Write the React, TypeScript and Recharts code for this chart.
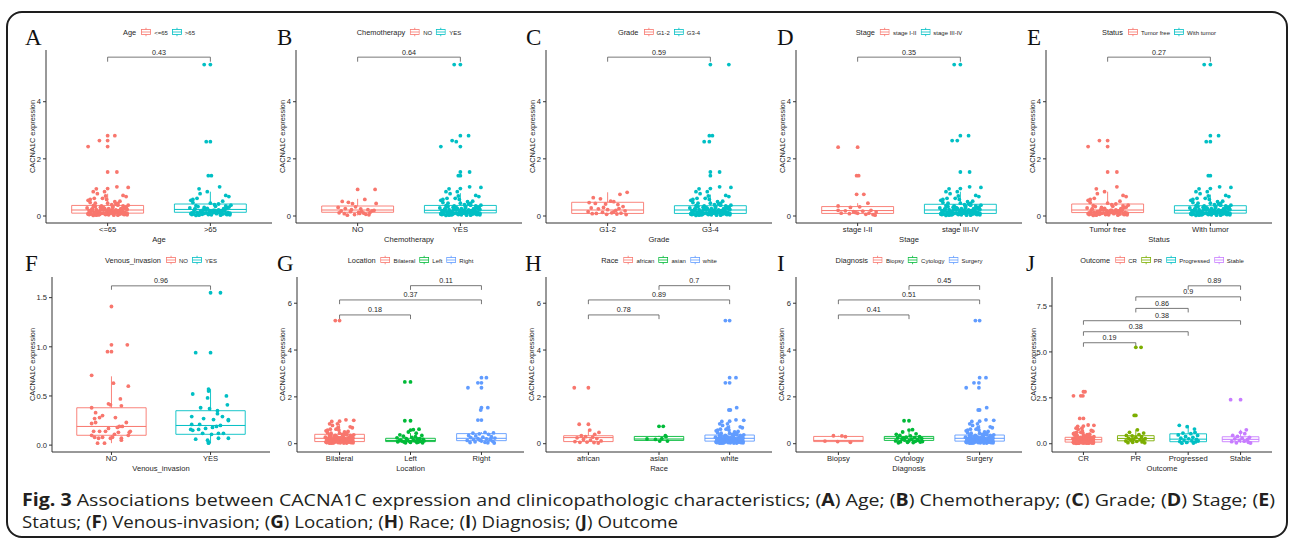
import React from 'react';
import { ComposedChart, Scatter, XAxis, YAxis, ReferenceArea, ReferenceLine } from 'recharts';

// ggplot default hues
const HUE2 = ['#F8766D', '#00BFC4'];
const HUE3 = ['#F8766D', '#00BA38', '#619CFF'];
const HUE4 = ['#F8766D', '#7CAE00', '#00BFC4', '#C77CFF'];

// horizontal jitter offsets (category units)
const jitter = [
  -0.18, 0.05, -0.07, 0.15, -0.12, 0.02, 0.19, -0.03, 0.1, -0.16,
  0.08, -0.01, 0.13, -0.09, 0.17, -0.14, 0.04, -0.06, 0.11, -0.19,
  0.07, -0.11, 0.16, 0.0, -0.04, 0.12, -0.17, 0.09, -0.08, 0.18,
  -0.02, 0.14, -0.13, 0.03, -0.15, 0.06, 0.2, -0.1, 0.01, -0.05,
  0.15, -0.18, 0.1, -0.12, 0.05, 0.17, -0.07, -0.2, 0.12, 0.02,
  -0.14, 0.08, -0.03, 0.19, -0.09, 0.04, -0.16, 0.13, -0.01, 0.07,
  -0.11, 0.16, -0.06, 0.11, -0.19, 0.0, 0.14, -0.13, 0.09, -0.04,
  0.18, -0.08, 0.03, -0.17, 0.06, -0.02, 0.15, -0.1, 0.1, -0.15,
];

// the low-expression band shared by the big groups
const denseLow = [
  0.05, 0.12, 0.21, 0.08, 0.33, 0.15, 0.04, 0.27, 0.1, 0.18,
  0.42, 0.07, 0.24, 0.13, 0.06, 0.36, 0.2, 0.09, 0.16, 0.55,
  0.11, 0.03, 0.29, 0.14, 0.22, 0.07, 0.47, 0.17, 0.1, 0.31,
  0.05, 0.19, 0.62, 0.12, 0.25, 0.08, 0.38, 0.15, 0.04, 0.23,
  0.72, 0.11, 0.18, 0.06, 0.34, 0.13, 0.09, 0.28, 0.52, 0.16,
  0.02, 0.21, 0.85, 0.1, 0.14, 0.4, 0.07, 0.26, 0.19, 0.12,
  0.95, 0.05, 0.3, 0.17, 0.08, 0.45, 0.22, 0.13, 1.02, 0.11,
  0.68, 0.06, 0.2, 0.58, 0.15, 0.09, 0.35, 0.78, 0.03, 0.24,
];
const sparseLow = [
  0.06, 0.18, 0.31, 0.1, 0.45, 0.14, 0.23, 0.08, 0.38, 0.2,
  0.12, 0.58, 0.16, 0.04, 0.27, 0.85, 0.11, 0.35, 0.19, 0.07,
  0.5, 0.22, 0.13, 0.96, 0.29, 0.09, 0.17, 0.41, 0.05, 0.25,
  0.7, 0.15, 0.33, 0.1, 0.21, 0.03, 1.0, 0.14, 0.26, 0.62,
  0.08, 0.19, 0.44, 0.12, 0.3,
];

// A: Age
const ageLevels = ['<=65', '>65'];
const ageYoungExtra = [[-0.19, 2.43], [-0.08, 2.64], [0, 2.81], [0, 2.64], [0, 2.43], [0.07, 2.81], [0, 1.54], [0.09, 1.54]];
const ageOldExtra = [[-0.06, 5.3], [0, 5.3], [-0.04, 2.6], [0, 2.6], [-0.02, 1.41], [0.01, 1.41]];
const ageBoxes = [[0.02, 0.1, 0.21, 0.37, 0.78], [0.02, 0.13, 0.23, 0.42, 0.85]];
const ageBrackets = [[1, 2, 5.56, '0.43']];

// B: Chemotherapy
const chemoLevels = ['NO', 'YES'];
const chemoNoPts = [[0, 0.93], [0.17, 0.93], [0.07, 0.58], [-0.15, 0.51], [-0.09, 0.48], [-0.05, 0.43], [0.18, 0.44], [-0.19, 0.3], [-0.12, 0.26], [-0.02, 0.32], [0.03, 0.25], [0.1, 0.22], [0.14, 0.18], [-0.16, 0.18], [-0.07, 0.15], [0.01, 0.13], [0.06, 0.1], [0.12, 0.12], [-0.13, 0.08], [-0.03, 0.05], [0.08, 0.06], [0.16, 0.2], [-0.18, 0.11], [0.04, 0.16], [-0.1, 0.03], [0.11, 0.04], [0.02, 0.09], [-0.06, 0.22]];
const chemoYesExtra = [[-0.06, 5.3], [0, 5.3], [0, 2.81], [0.08, 2.81], [-0.08, 2.64], [-0.04, 2.6], [-0.19, 2.43], [0, 2.43], [0, 1.54], [0.09, 1.54], [-0.02, 1.41], [0, 1.41]];
const chemoBoxes = [[0.02, 0.13, 0.21, 0.35, 0.6], [0.02, 0.11, 0.2, 0.37, 0.8]];
const chemoBrackets = [[1, 2, 5.56, '0.64']];

// C: Grade
const gradeLevels = ['G1-2', 'G3-4'];
const gradeLowPts = [[0.19, 0.83], [0.12, 0.76], [-0.14, 0.64], [-0.07, 0.6], [0.03, 0.52], [0.06, 0.5], [-0.18, 0.47], [-0.12, 0.44], [-0.02, 0.42], [0.1, 0.4], [0.15, 0.33], [-0.16, 0.28], [-0.09, 0.25], [0, 0.22], [0.08, 0.2], [0.17, 0.18], [-0.19, 0.15], [-0.05, 0.13], [0.04, 0.11], [0.13, 0.1], [-0.11, 0.09], [0.09, 0.07], [-0.01, 0.06], [0.18, 0.05], [-0.15, 0.08], [0.06, 0.14], [-0.04, 0.3], [0.11, 0.26]];
const gradeHighExtra = [[0, 5.3], [0.18, 5.3], [-0.01, 2.81], [0.02, 2.81], [-0.06, 2.6], [-0.01, 2.6], [0, 1.54], [0.09, 1.54], [0, 1.41]];
const gradeBoxes = [[0.04, 0.09, 0.21, 0.48, 0.83], [0.02, 0.09, 0.21, 0.36, 0.75]];
const gradeBrackets = [[1, 2, 5.56, '0.59']];

// D: Stage
const stageLevels = ['stage I-II', 'stage III-IV'];
const stageEarlyPts = [[-0.19, 2.41], [0, 2.41], [-0.01, 1.41], [0.01, 1.41], [-0.01, 0.76], [0.06, 0.76], [0.1, 0.45], [-0.19, 0.35], [-0.07, 0.3], [0.02, 0.32], [-0.19, 0.2], [-0.12, 0.18], [-0.04, 0.15], [0.05, 0.17], [0.13, 0.2], [0.18, 0.14], [-0.16, 0.1], [-0.08, 0.08], [0, 0.1], [0.08, 0.06], [0.15, 0.05], [0.11, 0.1], [-0.02, 0.12], [0.17, 0.03]];
const stageLateExtra = [[-0.06, 5.3], [0, 5.3], [0, 2.81], [0.08, 2.81], [-0.08, 2.64], [-0.03, 2.64], [0, 1.54], [0.09, 1.54]];
const stageBoxes = [[0.03, 0.09, 0.19, 0.33, 0.45], [0.02, 0.09, 0.21, 0.41, 0.85]];
const stageBrackets = [[1, 2, 5.56, '0.35']];

// E: Status
const statusLevels = ['Tumor free', 'With tumor'];
const statusFreeExtra = [[-0.19, 2.43], [-0.08, 2.64], [0, 2.64], [0, 2.43], [0, 1.54], [0.09, 1.54]];
const statusTumorExtra = [[-0.06, 5.3], [0, 5.3], [0, 2.81], [0.08, 2.81], [-0.04, 2.6], [0, 2.6], [-0.02, 1.41], [0, 1.41]];
const statusBoxes = [[0.02, 0.12, 0.21, 0.42, 0.85], [0.02, 0.1, 0.2, 0.36, 0.75]];
const statusBrackets = [[1, 2, 5.56, '0.27']];

// F: Venous invasion
const venousLevels = ['NO', 'YES'];
const venousNoPts = [[0, 1.41], [0, 1.02], [0.16, 1.02], [-0.04, 0.95], [0, 0.95], [-0.2, 0.71], [0.02, 0.63], [0.17, 0.6], [0.09, 0.47], [-0.03, 0.42], [-0.01, 0.41], [0.1, 0.4], [-0.2, 0.38], [-0.16, 0.33], [-0.09, 0.3], [-0.12, 0.28], [0.04, 0.28], [-0.17, 0.27], [0.15, 0.23], [-0.16, 0.23], [-0.2, 0.22], [0.08, 0.19], [0.11, 0.19], [0.06, 0.18], [-0.18, 0.14], [-0.12, 0.14], [-0.06, 0.14], [0.07, 0.13], [0.18, 0.13], [0.19, 0.14], [-0.2, 0.1], [-0.17, 0.08], [-0.13, 0.07], [-0.09, 0.08], [-0.01, 0.07], [0.01, 0.08], [0.1, 0.07], [0.17, 0.1], [-0.14, 0.02], [-0.07, 0.02], [0.1, 0.05], [0.03, 0.11], [-0.03, 0.17]];
const venousYesPts = [[0, 1.55], [0.1, 1.55], [-0.15, 0.94], [0, 0.94], [-0.18, 0.52], [-0.02, 0.57], [-0.02, 0.55], [-0.03, 0.48], [0.16, 0.5], [0.17, 0.41], [-0.1, 0.38], [-0.01, 0.37], [0.07, 0.35], [-0.19, 0.29], [0.07, 0.32], [0.12, 0.29], [0.18, 0.26], [0.03, 0.26], [-0.07, 0.27], [-0.19, 0.21], [-0.11, 0.21], [0.1, 0.2], [0.18, 0.25], [-0.12, 0.16], [-0.05, 0.17], [0.02, 0.18], [0.06, 0.19], [-0.2, 0.16], [-0.18, 0.15], [-0.08, 0.12], [0.01, 0.11], [0.08, 0.12], [0.13, 0.12], [-0.15, 0.06], [-0.03, 0.05], [0.08, 0.07], [0.18, 0.07], [-0.02, 0.03], [-0.02, 0.02]];
const venousBoxes = [[0.02, 0.1, 0.19, 0.38, 0.7], [0.02, 0.11, 0.2, 0.35, 0.57]];
const venousBrackets = [[1, 2, 1.62, '0.96']];

// G: Location
const locationLevels = ['Bilateral', 'Left', 'Right'];
const locBilateralExtra = [[-0.06, 5.26], [0, 5.26]];
const locLeftPts = [[-0.08, 2.64], [0, 2.64], [-0.08, 0.98], [0, 0.98], [0, 0.58], [0.04, 0.6], [0.12, 0.62], [-0.03, 0.5], [0.08, 0.45], [-0.15, 0.38], [-0.1, 0.32], [0.16, 0.35], [-0.19, 0.25], [-0.06, 0.22], [0.02, 0.27], [0.1, 0.2], [0.18, 0.18], [-0.14, 0.15], [-0.04, 0.14], [0.06, 0.12], [0.14, 0.1], [-0.18, 0.08], [-0.09, 0.07], [0, 0.06], [0.09, 0.05], [0.17, 0.04], [-0.12, 0.11], [0.04, 0.16], [-0.01, 0.09], [0.13, 0.22], [-0.16, 0.13], [0.07, 0.3], [-0.07, 0.04], [0.19, 0.12], [0.11, 0.07]];
const locRightPts = [[0, 2.82], [0.07, 2.82], [-0.05, 2.6], [0, 2.6], [-0.19, 2.39], [0, 2.39], [0, 1.54], [0.09, 1.54], [-0.01, 1.44], [-0.05, 1.01], [0, 1.01], [0.05, 0.48], [-0.12, 0.45], [0.17, 0.46], [-0.03, 0.42], [0.1, 0.4], [-0.18, 0.35], [-0.08, 0.33], [0.14, 0.3], [0.02, 0.28], [-0.15, 0.26], [0.19, 0.24], [-0.05, 0.22], [0.07, 0.2], [-0.11, 0.18], [0.12, 0.16], [-0.2, 0.14], [0, 0.12], [0.16, 0.1], [-0.09, 0.08], [0.05, 0.06], [-0.16, 0.05], [0.09, 0.04], [0.18, 0.03], [-0.02, 0.15], [0.13, 0.2]];
const locationBoxes = [[0.02, 0.09, 0.23, 0.4, 0.85], [0.03, 0.09, 0.14, 0.23, 0.45], [0.03, 0.13, 0.23, 0.43, 0.5]];
const locationBrackets = [[1, 2, 5.5, '0.18'], [1, 3, 6.14, '0.37'], [2, 3, 6.75, '0.11']];

// H: Race
const raceLevels = ['african', 'asian', 'white'];
const raceAfricanPts = [[-0.2, 2.39], [0, 2.39], [-0.13, 0.83], [0, 0.83], [0.02, 0.58], [0.15, 0.48], [0.09, 0.4], [-0.1, 0.34], [-0.04, 0.3], [0.06, 0.28], [-0.16, 0.25], [0.12, 0.22], [-0.07, 0.18], [0.03, 0.15], [0.18, 0.12], [-0.19, 0.09], [-0.02, 0.07], [0.08, 0.05], [0.14, 0.03], [-0.12, 0.06]];
const raceAsianPts = [[0, 0.74], [0.06, 0.74], [0.09, 0.34], [0.1, 0.3], [-0.17, 0.2], [0.01, 0.11], [0.12, 0.11], [-0.05, 0.18], [0.04, 0.22]];
const raceWhiteExtra = [[-0.06, 5.26], [0, 5.26], [0, 2.82], [0.09, 2.82], [-0.06, 2.6], [0, 2.6], [0.1, 1.54], [-0.01, 1.44], [0.01, 1.44]];
const raceBoxes = [[0.03, 0.09, 0.26, 0.34, 0.6], [0.11, 0.14, 0.2, 0.31, 0.34], [0.02, 0.11, 0.23, 0.37, 0.8]];
const raceBrackets = [[1, 2, 5.5, '0.78'], [1, 3, 6.14, '0.89'], [2, 3, 6.75, '0.7']];

// I: Diagnosis
const diagnosisLevels = ['Biopsy', 'Cytology', 'Surgery'];
const diagBiopsyPts = [[-0.07, 0.34], [0.05, 0.33], [0.1, 0.3], [-0.19, 0.11], [-0.01, 0.09], [0.17, 0.06]];
const diagCytologyPts = [[-0.07, 0.98], [0, 0.98], [0, 0.58], [0.05, 0.6], [-0.09, 0.5], [-0.18, 0.4], [0.1, 0.42], [-0.13, 0.35], [0.02, 0.33], [0.15, 0.3], [-0.04, 0.28], [0.08, 0.26], [-0.16, 0.24], [0.18, 0.22], [-0.1, 0.2], [0.04, 0.19], [0.12, 0.17], [-0.06, 0.15], [0, 0.13], [-0.19, 0.12], [0.09, 0.1], [-0.12, 0.08], [0.16, 0.07], [-0.02, 0.06], [0.06, 0.05], [-0.15, 0.04], [0.13, 0.14], [-0.08, 0.24], [0.19, 0.09]];
const diagSurgeryExtra = [[-0.06, 5.26], [0, 5.26], [0, 2.82], [0.09, 2.82], [-0.08, 2.6], [-0.01, 2.6], [-0.19, 2.39], [-0.01, 2.39], [0.1, 1.54], [-0.02, 1.44], [0, 1.44]];
const diagnosisBoxes = [[0.06, 0.09, 0.14, 0.31, 0.34], [0.04, 0.14, 0.23, 0.31, 0.5], [0.02, 0.11, 0.23, 0.37, 0.8]];
const diagnosisBrackets = [[1, 2, 5.5, '0.41'], [1, 3, 6.14, '0.51'], [2, 3, 6.75, '0.45']];

// J: Outcome
const outcomeLevels = ['CR', 'PR', 'Progressed', 'Stable'];
const outCrExtra = [[0, 2.83], [0.03, 2.83], [-0.19, 2.61], [-0.05, 2.61], [-0.01, 2.61], [-0.07, 1.38], [0, 1.38]];
const outPrPts = [[0, 5.25], [0.1, 5.25], [-0.03, 1.54], [0, 1.54], [0.03, 0.76], [-0.12, 0.62], [0.15, 0.58], [0.06, 0.5], [-0.18, 0.45], [-0.07, 0.42], [0.11, 0.38], [0, 0.35], [-0.14, 0.3], [0.18, 0.28], [-0.04, 0.25], [0.08, 0.22], [-0.1, 0.2], [0.14, 0.18], [-0.19, 0.15], [0.02, 0.13], [0.12, 0.1], [-0.06, 0.08], [0.17, 0.05], [-0.15, 0.06]];
const outProgPts = [[-0.17, 1.0], [-0.02, 0.93], [0.12, 0.8], [0.13, 0.62], [-0.1, 0.58], [0.05, 0.55], [-0.19, 0.48], [0.18, 0.45], [-0.05, 0.4], [0.09, 0.35], [-0.14, 0.3], [0.01, 0.27], [0.16, 0.24], [-0.08, 0.2], [0.07, 0.16], [-0.16, 0.12], [0.14, 0.1], [-0.03, 0.07], [0.1, 0.04], [-0.12, 0.03], [0.19, 0.15]];
const outStablePts = [[-0.19, 2.4], [0, 2.4], [0.11, 0.76], [0, 0.62], [0.08, 0.55], [-0.15, 0.45], [-0.06, 0.4], [0.17, 0.35], [0.03, 0.3], [-0.11, 0.26], [0.13, 0.22], [-0.02, 0.18], [0.07, 0.14], [-0.17, 0.11], [0.15, 0.08], [-0.08, 0.05], [0.19, 0.04]];
const outcomeBoxes = [[0.02, 0.09, 0.22, 0.35, 0.75], [0.05, 0.16, 0.29, 0.44, 0.76], [0.02, 0.11, 0.25, 0.54, 1.0], [0.04, 0.11, 0.24, 0.38, 0.76]];
const outcomeBrackets = [[1, 2, 5.5, '0.19'], [1, 3, 6.1, '0.38'], [1, 4, 6.7, '0.38'], [2, 3, 7.37, '0.86'], [2, 4, 8.0, '0.9'], [3, 4, 8.6, '0.89']];

// axis scales
const topDomain = [-0.245, 5.81];
const topTicks = [0, 2, 4];
const venousDomain = [-0.07, 1.71];
const venousTicks = [0, 0.5, 1, 1.5];
const wideDomain = [-0.355, 7.12];
const wideTicks = [0, 2, 4, 6];
const outcomeDomain = [-0.45, 9.08];
const outcomeTicks = [0, 2.5, 5, 7.5];

const captionLine1: [string, boolean][] = [
  ['Fig. 3', true], [' Associations between CACNA1C expression and clinicopathologic characteristics; (', false],
  ['A', true], [') Age; (', false], ['B', true], [') Chemotherapy; (', false], ['C', true], [') Grade; (', false],
  ['D', true], [') Stage; (', false], ['E', true], [')', false],
];
const captionLine2: [string, boolean][] = [
  ['Status; (', false], ['F', true], [') Venous-invasion; (', false], ['G', true], [') Location; (', false],
  ['H', true], [') Race; (', false], ['I', true], [') Diagnosis; (', false], ['J', true], [') Outcome', false],
];

const withJitter = (vals: number[]) => vals.map((v, i) => [jitter[i % jitter.length], v]);
const bigGroup = (extra: number[][]) => [...withJitter([...denseLow, ...sparseLow]), ...extra];
const midGroup = (extra: number[][]) => [...withJitter(denseLow), ...extra];

const BOX_HALF = 0.35;
const TOP_PAD = 14;

interface RowDef { plotTop: number; plotH: number; legendY: number; letterY: number }
const topRow: RowDef = { plotTop: 50, plotH: 173, legendY: 32, letterY: 45 };
const bottomRow: RowDef = { plotTop: 277, plotH: 175, legendY: 260, letterY: 271 };

interface PanelDef {
  letter: string; letterX: number; variable: string; levels: string[]; colors: string[];
  groups: number[][][]; boxes: number[][]; brackets: (number | string)[][];
  axisX: number; plotW: number; yW: number; row: RowDef;
  domain: number[]; ticks: number[]; decimals: number; bracketTick: number;
}

const panels: PanelDef[] = [
  { letter: 'A', letterX: 25, variable: 'Age', levels: ageLevels, colors: HUE2, groups: [bigGroup(ageYoungExtra), midGroup(ageOldExtra)], boxes: ageBoxes, brackets: ageBrackets, axisX: 46, plotW: 226, yW: 27, row: topRow, domain: topDomain, ticks: topTicks, decimals: 0, bracketTick: 0.16 },
  { letter: 'B', letterX: 277, variable: 'Chemotherapy', levels: chemoLevels, colors: HUE2, groups: [chemoNoPts, bigGroup(chemoYesExtra)], boxes: chemoBoxes, brackets: chemoBrackets, axisX: 296, plotW: 226, yW: 27, row: topRow, domain: topDomain, ticks: topTicks, decimals: 0, bracketTick: 0.16 },
  { letter: 'C', letterX: 526, variable: 'Grade', levels: gradeLevels, colors: HUE2, groups: [gradeLowPts, bigGroup(gradeHighExtra)], boxes: gradeBoxes, brackets: gradeBrackets, axisX: 546, plotW: 226, yW: 27, row: topRow, domain: topDomain, ticks: topTicks, decimals: 0, bracketTick: 0.16 },
  { letter: 'D', letterX: 777, variable: 'Stage', levels: stageLevels, colors: HUE2, groups: [stageEarlyPts, bigGroup(stageLateExtra)], boxes: stageBoxes, brackets: stageBrackets, axisX: 796, plotW: 226, yW: 27, row: topRow, domain: topDomain, ticks: topTicks, decimals: 0, bracketTick: 0.16 },
  { letter: 'E', letterX: 1027, variable: 'Status', levels: statusLevels, colors: HUE2, groups: [midGroup(statusFreeExtra), bigGroup(statusTumorExtra)], boxes: statusBoxes, brackets: statusBrackets, axisX: 1046, plotW: 226, yW: 27, row: topRow, domain: topDomain, ticks: topTicks, decimals: 0, bracketTick: 0.16 },
  { letter: 'F', letterX: 25, variable: 'Venous_invasion', levels: venousLevels, colors: HUE2, groups: [venousNoPts, venousYesPts], boxes: venousBoxes, brackets: venousBrackets, axisX: 52, plotW: 218, yW: 40, row: bottomRow, domain: venousDomain, ticks: venousTicks, decimals: 1, bracketTick: 0.04 },
  { letter: 'G', letterX: 277, variable: 'Location', levels: locationLevels, colors: HUE3, groups: [bigGroup(locBilateralExtra), locLeftPts, locRightPts], boxes: locationBoxes, brackets: locationBrackets, axisX: 297, plotW: 227, yW: 30, row: bottomRow, domain: wideDomain, ticks: wideTicks, decimals: 0, bracketTick: 0.18 },
  { letter: 'H', letterX: 525, variable: 'Race', levels: raceLevels, colors: HUE3, groups: [raceAfricanPts, raceAsianPts, bigGroup(raceWhiteExtra)], boxes: raceBoxes, brackets: raceBrackets, axisX: 546, plotW: 226, yW: 30, row: bottomRow, domain: wideDomain, ticks: wideTicks, decimals: 0, bracketTick: 0.18 },
  { letter: 'I', letterX: 777, variable: 'Diagnosis', levels: diagnosisLevels, colors: HUE3, groups: [diagBiopsyPts, diagCytologyPts, bigGroup(diagSurgeryExtra)], boxes: diagnosisBoxes, brackets: diagnosisBrackets, axisX: 796, plotW: 226, yW: 30, row: bottomRow, domain: wideDomain, ticks: wideTicks, decimals: 0, bracketTick: 0.18 },
  { letter: 'J', letterX: 1026, variable: 'Outcome', levels: outcomeLevels, colors: HUE4, groups: [bigGroup(outCrExtra), outPrPts, outProgPts, outStablePts], boxes: outcomeBoxes, brackets: outcomeBrackets, axisX: 1052, plotW: 220, yW: 38, row: bottomRow, domain: outcomeDomain, ticks: outcomeTicks, decimals: 1, bracketTick: 0.22 },
];

const LINE = '#333';
const TEXT = '#262626';

const KeyIcon = ({ color }: { color: string }) => (
  <svg width={10} height={9} style={{ margin: '0 3px 0 4px' }}>
    <line x1={5} y1={0} x2={5} y2={9} stroke={color} strokeWidth={0.8} />
    <rect x={0.5} y={2} width={9} height={5} fill="#fff" stroke={color} strokeWidth={0.8} />
    <line x1={0.5} y1={4.5} x2={9.5} y2={4.5} stroke={color} strokeWidth={0.8} />
  </svg>
);

const Panel = ({ p }: { p: PanelDef }) => {
  const n = p.levels.length;
  const xTicks = p.levels.map((_, i) => i + 1);
  const chartW = p.yW + p.plotW + 6;
  const chartH = p.row.plotH + 22 + TOP_PAD;
  return (
    <>
      <div style={{ position: 'absolute', left: p.axisX - p.yW, top: p.row.plotTop - TOP_PAD }}>
        <ComposedChart width={chartW} height={chartH} margin={{ top: TOP_PAD, right: 6, bottom: 0, left: 0 }}>
          <XAxis
            type="number"
            dataKey="x"
            domain={[0.4, n + 0.6]}
            allowDataOverflow
            ticks={xTicks}
            interval={0}
            tickFormatter={(v: number) => p.levels[Math.round(v) - 1] ?? ''}
            height={22}
            tickSize={3}
            tickMargin={1}
            axisLine={{ stroke: LINE, strokeWidth: 1 }}
            tickLine={{ stroke: LINE }}
            tick={{ fontSize: 7.6, fill: TEXT }}
            label={{ value: p.variable, position: 'insideBottom', offset: 3.3, fontSize: 7.6, fill: TEXT }}
          />
          <YAxis
            type="number"
            dataKey="y"
            domain={p.domain}
            allowDataOverflow
            ticks={p.ticks}
            interval={0}
            tickFormatter={(v: number) => v.toFixed(p.decimals)}
            width={p.yW}
            tickSize={3}
            tickMargin={2}
            axisLine={{ stroke: LINE, strokeWidth: 1 }}
            tickLine={{ stroke: LINE }}
            tick={{ fontSize: 7.6, fill: TEXT }}
            label={{ value: 'CACNA1C expression', angle: -90, position: 'center', fontSize: 7.4, fill: TEXT }}
          />
          {p.boxes.map((b, i) => (
            <ReferenceArea
              key={`box-${i}`}
              x1={i + 1 - BOX_HALF}
              x2={i + 1 + BOX_HALF}
              y1={b[1]}
              y2={b[3]}
              fill="#fff"
              fillOpacity={0}
              stroke={p.colors[i]}
              strokeWidth={0.9}
            />
          ))}
          {p.boxes.map((b, i) => (
            <ReferenceLine key={`med-${i}`} segment={[{ x: i + 1 - BOX_HALF, y: b[2] }, { x: i + 1 + BOX_HALF, y: b[2] }]} stroke={p.colors[i]} strokeWidth={1} />
          ))}
          {p.boxes.map((b, i) => (
            <ReferenceLine key={`wlo-${i}`} segment={[{ x: i + 1, y: b[0] }, { x: i + 1, y: b[1] }]} stroke={p.colors[i]} strokeWidth={0.9} />
          ))}
          {p.boxes.map((b, i) => (
            <ReferenceLine key={`whi-${i}`} segment={[{ x: i + 1, y: b[3] }, { x: i + 1, y: b[4] }]} stroke={p.colors[i]} strokeWidth={0.9} />
          ))}
          {p.groups.map((g, i) => (
            <Scatter
              key={`pts-${i}`}
              data={g.map(([dx, y]) => ({ x: i + 1 + dx, y }))}
              isAnimationActive={false}
              shape={(s: any) => <circle cx={s.cx} cy={s.cy} r={1.9} fill={p.colors[i]} />}
            />
          ))}
          {p.brackets.map(([a, b, y, lab], k) => (
            <ReferenceLine
              key={`br-${k}`}
              segment={[{ x: a as number, y: y as number }, { x: b as number, y: y as number }]}
              stroke="#555"
              strokeWidth={0.8}
              label={{ value: lab as string, position: 'top', offset: 2.5, fontSize: 7.2, fill: TEXT }}
            />
          ))}
          {p.brackets.map(([a, , y], k) => (
            <ReferenceLine key={`brl-${k}`} segment={[{ x: a as number, y: y as number }, { x: a as number, y: (y as number) - p.bracketTick }]} stroke="#555" strokeWidth={0.8} />
          ))}
          {p.brackets.map(([, b, y], k) => (
            <ReferenceLine key={`brr-${k}`} segment={[{ x: b as number, y: y as number }, { x: b as number, y: (y as number) - p.bracketTick }]} stroke="#555" strokeWidth={0.8} />
          ))}
        </ComposedChart>
      </div>
      <div
        style={{
          position: 'absolute',
          left: p.axisX + p.plotW / 2,
          top: p.row.legendY,
          transform: 'translate(-50%, -50%)',
          display: 'flex',
          alignItems: 'center',
          whiteSpace: 'nowrap',
          color: TEXT,
        }}
      >
        <span style={{ fontSize: 7.4, marginRight: 1 }}>{p.variable}</span>
        {p.levels.map((lv, i) => (
          <React.Fragment key={lv}>
            <KeyIcon color={p.colors[i]} />
            <span style={{ fontSize: 6 }}>{lv}</span>
          </React.Fragment>
        ))}
      </div>
    </>
  );
};

export default function App() {
  return (
    <div
      style={{
        position: 'absolute',
        left: 0,
        top: 0,
        width: 1292,
        height: 542,
        background: '#fff',
        overflow: 'hidden',
        fontFamily: '"Liberation Sans", Arial, sans-serif',
      }}
    >
      <div
        style={{
          position: 'absolute',
          left: 6,
          top: 11,
          width: 1282,
          height: 527,
          border: '2px solid #1e1e1e',
          borderRadius: 16,
          boxSizing: 'border-box',
        }}
      />
      {panels.map((p) => (
        <Panel key={p.letter} p={p} />
      ))}
      <svg width={1292} height={542} style={{ position: 'absolute', left: 0, top: 0, pointerEvents: 'none' }}>
        {panels.map((p) => (
          <text key={p.letter} x={p.letterX} y={p.row.letterY} fontSize={23} fontFamily='"Liberation Serif", "Times New Roman", serif' fill="#111">
            {p.letter}
          </text>
        ))}
        <text x={22} y={506} fontSize={17} fontFamily='"Open Sans", sans-serif' fill="#231f20" textLength={1253} lengthAdjust="spacingAndGlyphs">
          {captionLine1.map(([t, b], i) => (
            <tspan key={i} fontWeight={b ? 'bold' : 'normal'}>{t}</tspan>
          ))}
        </text>
        <text x={22} y={528} fontSize={17} fontFamily='"Open Sans", sans-serif' fill="#231f20" textLength={656} lengthAdjust="spacingAndGlyphs">
          {captionLine2.map(([t, b], i) => (
            <tspan key={i} fontWeight={b ? 'bold' : 'normal'}>{t}</tspan>
          ))}
        </text>
      </svg>
    </div>
  );
}
